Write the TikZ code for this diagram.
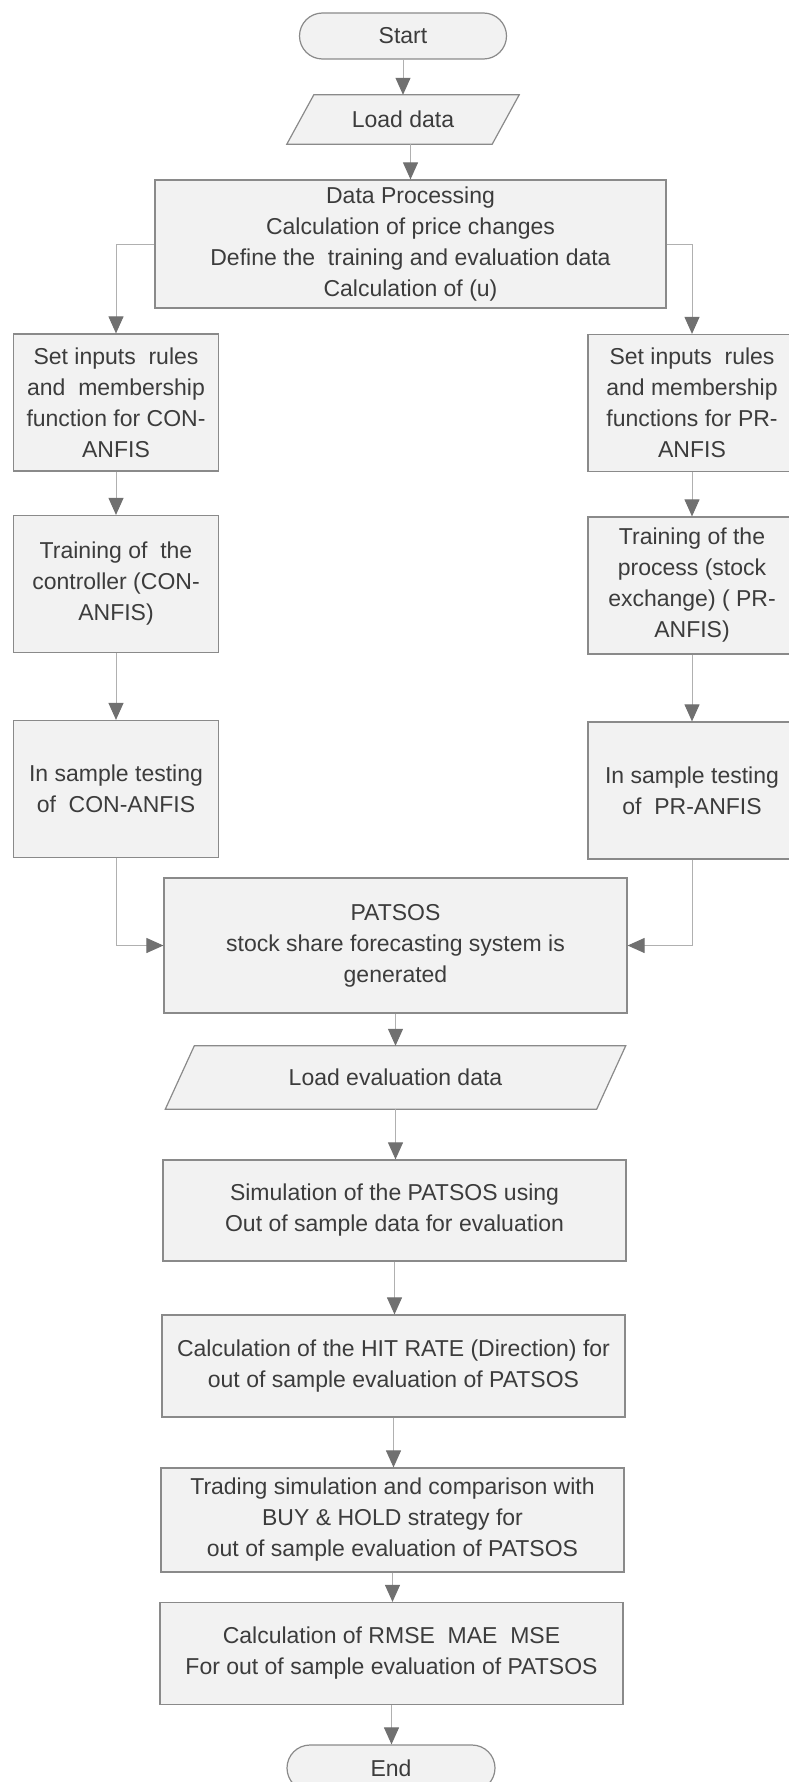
\documentclass[tikz,border=0pt]{standalone}
\usepackage{fontspec}
\setmainfont{Liberation Sans}
\usetikzlibrary{arrows.meta,backgrounds}
\definecolor{boxfill}{HTML}{F2F2F2}
\definecolor{boxline}{HTML}{8A8A8A}
\definecolor{conn}{HTML}{B0B0B0}
\definecolor{tipgray}{HTML}{707070}
\definecolor{txt}{HTML}{3C3C3C}
\tikzset{
  txtfont/.style={font=\fontsize{23}{31}\selectfont},
  procbox/.style={draw=boxline, fill=boxfill, line width=1.2pt, rectangle,
    inner sep=0pt, align=center, text=txt, txtfont},
  termbox/.style={procbox, rounded corners=23pt, minimum width=207pt, minimum height=46pt},
  iobox/.style={rectangle, inner sep=0pt, align=center, text=txt, txtfont},
  ioshape/.style={draw=boxline, fill=boxfill, line width=1.2pt},
  sidebox/.style={procbox, minimum width=205pt, minimum height=137pt},
  mainbox/.style={procbox, minimum width=463pt},
  flow/.style={draw=conn, line width=1pt, -{Triangle[length=17pt,width=15pt,color=tipgray]}}
}
\begin{document}
\begin{tikzpicture}[x=1pt,y=-1pt]
\useasboundingbox (0,0) rectangle (788,1782);

% top column
\node[termbox] (start) at (403,36) {Start};
\node[iobox, minimum width=205pt, minimum height=49pt] (load) at (403,119.5) {Load data};
\node[procbox, minimum width=511pt, minimum height=128pt] (dp) at (410.5,244)
  {Data Processing\\Calculation of price changes\\Define the\ \ training and evaluation data\\Calculation of (u)};

% left column
\node[sidebox] (lb1) at (116,402.5) {Set inputs\ \ rules\\and\ \ membership\\function for CON-\\ANFIS};
\node[sidebox] (lb2) at (116,584) {Training of\ \ the\\controller (CON-\\ANFIS)};
\node[sidebox] (lb3) at (116,789) {In sample testing\\of\ \ CON-ANFIS};

% right column
\node[sidebox, minimum width=208pt] (rb1) at (692,403) {Set inputs\ \ rules\\and membership\\functions for PR-\\ANFIS};
\node[sidebox, minimum width=208pt] (rb2) at (692,585.5) {Training of the\\process (stock\\exchange) ( PR-\\ANFIS)};
\node[sidebox, minimum width=208pt] (rb3) at (692,790.5) {In sample testing\\of\ \ PR-ANFIS};

% main lower column
\node[mainbox, minimum height=135pt] (pat) at (395.5,945.5) {PATSOS\\stock share forecasting system is\\generated};
\node[iobox, minimum width=431pt, minimum height=63pt] (leval) at (395.5,1077.5) {Load evaluation data};
\node[mainbox, minimum height=101pt] (sim) at (394.5,1210.5) {Simulation of the PATSOS using\\Out of sample data for evaluation};
\node[mainbox, minimum height=102pt] (hit) at (393.5,1366) {Calculation of the HIT RATE (Direction) for\\out of sample evaluation of PATSOS};
\node[mainbox, minimum height=104pt] (trade) at (392.5,1520) {Trading simulation and comparison with\\BUY \& HOLD strategy for\\out of sample evaluation of PATSOS};
\node[mainbox, minimum height=102pt] (rmse) at (391.5,1653.5) {Calculation of RMSE\ \ MAE\ \ MSE\\For out of sample evaluation of PATSOS};
\node[termbox, minimum width=208pt] (end) at (391,1768) {End};

% parallelogram outlines
\begin{scope}[on background layer]
\draw[ioshape] ([xshift=13.5pt]load.north west) -- ([xshift=13.5pt]load.north east)
  -- ([xshift=-13.5pt]load.south east) -- ([xshift=-13.5pt]load.south west) -- cycle;
\draw[ioshape] ([xshift=14.5pt]leval.north west) -- ([xshift=14.5pt]leval.north east)
  -- ([xshift=-14.5pt]leval.south east) -- ([xshift=-14.5pt]leval.south west) -- cycle;
\end{scope}

% connectors
\draw[flow] (start.south) -- (start.south |- load.north);
\draw[flow] (load.south -| dp.north) -- (dp.north);
\draw[flow] (dp.west) -| (lb1.north);
\draw[flow] (dp.east) -| (rb1.north);
\draw[flow] (lb1.south) -- (lb2.north);
\draw[flow] (lb2.south) -- (lb3.north);
\draw[flow] (rb1.south) -- (rb2.north);
\draw[flow] (rb2.south) -- (rb3.north);
\draw[flow] (lb3.south) |- (pat.west);
\draw[flow] (rb3.south) |- (pat.east);
\draw[flow] (pat.south) -- (pat.south |- leval.north);
\draw[flow] (leval.south) -- (leval.south |- sim.north);
\draw[flow] (sim.south) -- (sim.south |- hit.north);
\draw[flow] (hit.south) -- (hit.south |- trade.north);
\draw[flow] (trade.south) -- (trade.south |- rmse.north);
\draw[flow] (rmse.south) -- (rmse.south |- end.north);
\end{tikzpicture}
\end{document}
